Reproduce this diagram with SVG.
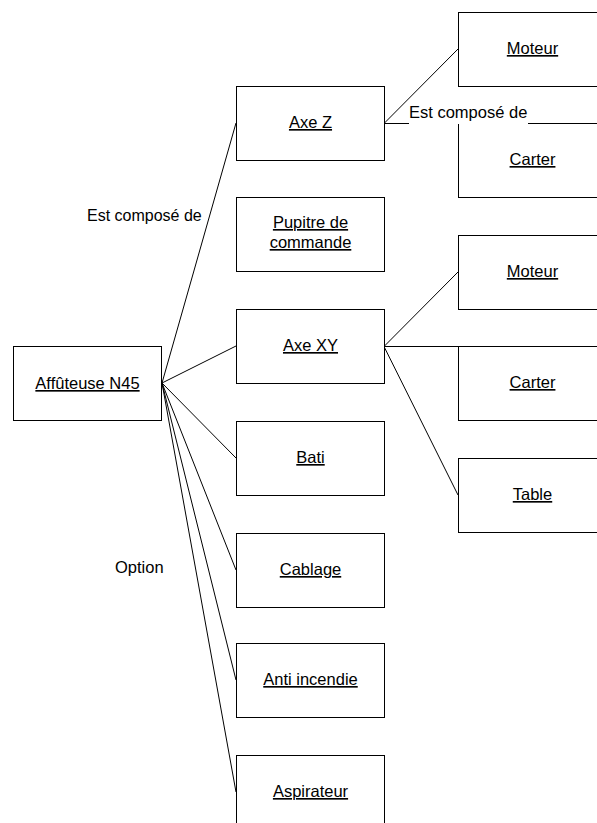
<svg xmlns="http://www.w3.org/2000/svg" width="597" height="823" viewBox="0 0 597 823">
<style>
.box{fill:#fff;stroke:#000;stroke-width:1}
.t{font-family:"Liberation Sans",Arial,sans-serif;font-size:16.5px;fill:#000;text-anchor:middle;text-decoration:underline}
.l{font-family:"Liberation Sans",Arial,sans-serif;font-size:16.5px;fill:#000}
.c{stroke:#000;stroke-width:1;fill:none}
</style>
<rect width="597" height="823" fill="#fff"/>
<g id="connectors">
<line class="c" x1="162" y1="383" x2="236" y2="123"/>
<line class="c" x1="162" y1="383" x2="236" y2="346"/>
<line class="c" x1="162" y1="383" x2="236" y2="458"/>
<line class="c" x1="162" y1="383" x2="236" y2="570"/>
<line class="c" x1="162" y1="383" x2="236" y2="680"/>
<line class="c" x1="162" y1="383" x2="236" y2="792"/>
<line class="c" x1="384" y1="123.5" x2="458" y2="49"/>
<line class="c" x1="384" y1="123.5" x2="597" y2="123.5"/>
<line class="c" x1="384" y1="346.5" x2="458" y2="272"/>
<line class="c" x1="384" y1="346.5" x2="458" y2="346.5"/>
<line class="c" x1="384" y1="346.5" x2="458" y2="495"/>
</g>
<g id="root"><rect class="box" x="13.5" y="346.5" width="148" height="74"/><text class="t" x="87.5" y="389">Affûteuse N45</text></g>
<g id="axeZ"><rect class="box" x="236.5" y="86.5" width="148" height="74"/><text class="t" x="310.5" y="128">Axe Z</text></g>
<g id="pupitre"><rect class="box" x="236.5" y="197.5" width="148" height="74"/><text class="t" x="310.5" y="228">Pupitre de</text><text class="t" x="310.5" y="248">commande</text></g>
<g id="axeXY"><rect class="box" x="236.5" y="309.5" width="148" height="74"/><text class="t" x="310.5" y="351">Axe XY</text></g>
<g id="bati"><rect class="box" x="236.5" y="421.5" width="148" height="74"/><text class="t" x="310.5" y="463">Bati</text></g>
<g id="cablage"><rect class="box" x="236.5" y="533.5" width="148" height="74"/><text class="t" x="310.5" y="575">Cablage</text></g>
<g id="antiIncendie"><rect class="box" x="236.5" y="643.5" width="148" height="74"/><text class="t" x="310.5" y="685">Anti incendie</text></g>
<g id="aspirateur"><rect class="box" x="236.5" y="755.5" width="148" height="74"/><text class="t" x="310.5" y="797">Aspirateur</text></g>
<g id="moteurZ"><rect class="box" x="458.5" y="12.5" width="148" height="74"/><text class="t" x="532.5" y="54">Moteur</text></g>
<g id="carterZ"><rect class="box" x="458.5" y="123.5" width="148" height="74"/><text class="t" x="532.5" y="165">Carter</text></g>
<g id="moteurXY"><rect class="box" x="458.5" y="235.5" width="148" height="74"/><text class="t" x="532.5" y="277">Moteur</text></g>
<g id="carterXY"><rect class="box" x="458.5" y="346.5" width="148" height="74"/><text class="t" x="532.5" y="388">Carter</text></g>
<g id="table"><rect class="box" x="458.5" y="458.5" width="148" height="74"/><text class="t" x="532.5" y="500">Table</text></g>
<g id="labels">
<rect x="409" y="104" width="119" height="20" fill="#fff"/>
<text class="l" x="409" y="118">Est composé de</text>
<text class="l" x="87" y="221" style="font-size:16px">Est composé de</text>
<text class="l" x="115" y="573">Option</text>
</g>
</svg>
